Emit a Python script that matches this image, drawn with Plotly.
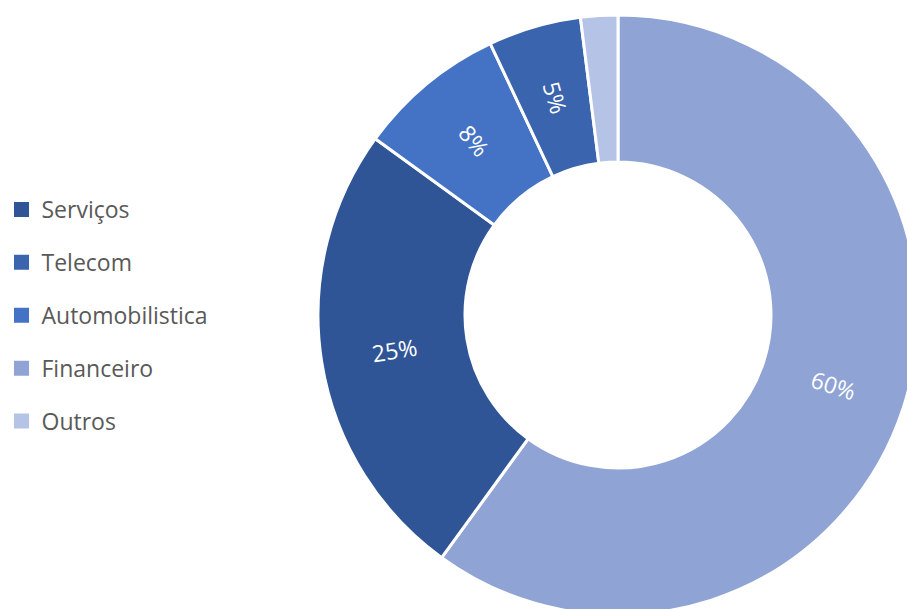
import math
import plotly.graph_objects as go

# Sector shares (%), listed in the order the slices run clockwise from 12 o'clock
slice_labels = ["Financeiro", "Serviços", "Automobilistica", "Telecom", "Outros"]
slice_values = [60, 25, 8, 5, 2]
# slices that carry a percentage label
labelled = ["Financeiro", "Serviços", "Automobilistica", "Telecom"]

# Legend order and colours
legend_labels = ["Serviços", "Telecom", "Automobilistica", "Financeiro", "Outros"]
colors = {
    "Serviços": "#2F5597",
    "Telecom": "#3A64AD",
    "Automobilistica": "#4472C4",
    "Financeiro": "#8FA3D4",
    "Outros": "#B5C3E6",
}

W, H = 925, 620
FONT = "Open Sans, DejaVu Sans, sans-serif"

# donut centre and radius in pixels
cx, cy, r = 618, 315, 300
HOLE = 0.51

fig = go.Figure()
fig.add_trace(go.Pie(
    labels=slice_labels,
    values=slice_values,
    sort=False,
    direction="clockwise",
    rotation=0,
    hole=HOLE,
    marker=dict(colors=[colors[l] for l in slice_labels],
                line=dict(color="white", width=3)),
    textinfo="none",
    showlegend=False,
    hoverinfo="label+percent",
    domain=dict(x=[(cx - r) / W, (cx + r) / W],
                y=[(H - cy - r) / H, (H - cy + r) / H]),
))

# radial percentage labels at the middle of each ring segment
total = sum(slice_values)
start = 0.0
r_mid = r * (1 + HOLE) / 2
for name, v in zip(slice_labels, slice_values):
    span = 360.0 * v / total
    mid = start + span / 2
    start += span
    if name not in labelled:
        continue
    a = math.radians(mid)
    px = cx + r_mid * math.sin(a)
    py = cy - r_mid * math.cos(a)
    angle = mid - 90 if mid < 180 else mid - 270
    fig.add_annotation(
        x=px / W, y=1 - py / H, xref="paper", yref="paper",
        text=f"{v / total:.0%}", showarrow=False, textangle=angle,
        xanchor="center", yanchor="middle",
        font=dict(family=FONT, size=23, color="white"),
    )

# legend entries, one per sector
for name in legend_labels:
    fig.add_trace(go.Scatter(
        x=[None], y=[None], mode="markers", name=name,
        legendgroup=name,
        marker=dict(symbol="square", size=15, color=colors[name]),
    ))

fig.update_layout(
    width=W, height=H,
    margin=dict(l=0, r=0, t=0, b=0),
    paper_bgcolor="white",
    plot_bgcolor="white",
    xaxis=dict(visible=False),
    yaxis=dict(visible=False),
    font=dict(family=FONT, color="#595959"),
    legend=dict(
        x=1.5 / W, y=1 - 315.5 / H, xanchor="left", yanchor="middle",
        font=dict(family=FONT, size=23, color="#595959"),
        tracegroupgap=20,
        traceorder="grouped",
        bgcolor="rgba(0,0,0,0)",
    ),
)

fig.write_html("out.html")
